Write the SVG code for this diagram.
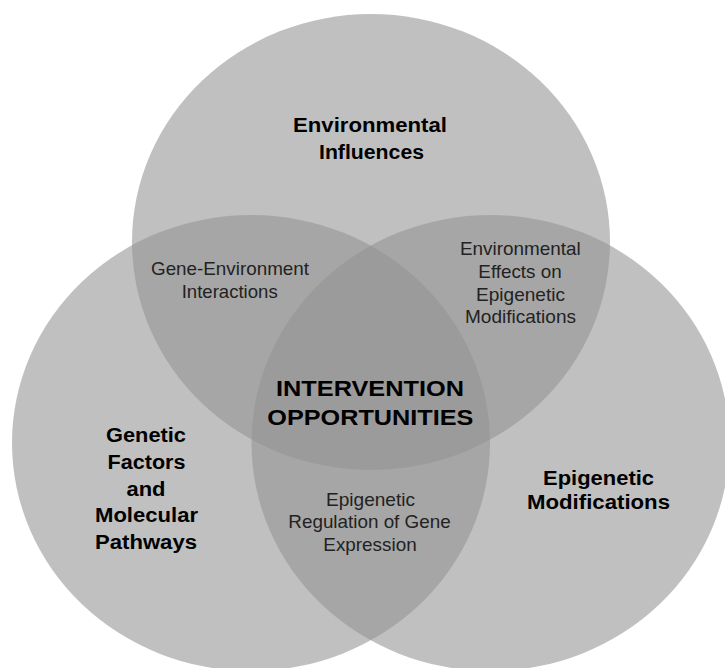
<svg xmlns="http://www.w3.org/2000/svg" width="725" height="668" viewBox="0 0 725 668">
<style>
.c{fill:#949494;fill-opacity:0.59;stroke:none}
.b{font-family:"Liberation Sans",Arial,sans-serif;font-weight:bold;font-size:20px;fill:#000;text-anchor:middle}
.big{font-size:22px}
.r{font-family:"Liberation Sans",Arial,sans-serif;font-size:18.5px;fill:#222;text-anchor:middle}
</style>
<rect width="725" height="668" fill="#fff"/>
<g id="environmental">
<ellipse class="c" cx="371" cy="242" rx="239" ry="228"/>
<text class="b" x="370" y="132" textLength="154" lengthAdjust="spacingAndGlyphs">Environmental</text>
<text class="b" x="371.5" y="159" textLength="105" lengthAdjust="spacingAndGlyphs">Influences</text>
</g>
<g id="genetic">
<ellipse class="c" cx="251" cy="443" rx="239" ry="228"/>
<text class="b" x="146" y="442" textLength="80" lengthAdjust="spacingAndGlyphs">Genetic</text>
<text class="b" x="146.5" y="469" textLength="78" lengthAdjust="spacingAndGlyphs">Factors</text>
<text class="b" x="146" y="496" textLength="39" lengthAdjust="spacingAndGlyphs">and</text>
<text class="b" x="146.5" y="522" textLength="103" lengthAdjust="spacingAndGlyphs">Molecular</text>
<text class="b" x="146" y="549" textLength="102" lengthAdjust="spacingAndGlyphs">Pathways</text>
</g>
<g id="epigenetic">
<ellipse class="c" cx="490.5" cy="443" rx="239" ry="228"/>
<text class="b" x="598.5" y="485" textLength="111" lengthAdjust="spacingAndGlyphs">Epigenetic</text>
<text class="b" x="598.5" y="508.5" textLength="143" lengthAdjust="spacingAndGlyphs">Modifications</text>
</g>
<g id="gene-environment">
<text class="r" x="230" y="274.5" textLength="158" lengthAdjust="spacingAndGlyphs">Gene-Environment</text>
<text class="r" x="229.7" y="297.7" textLength="96" lengthAdjust="spacingAndGlyphs">Interactions</text>
</g>
<g id="environmental-effects">
<text class="r" x="520.3" y="255" textLength="120.7" lengthAdjust="spacingAndGlyphs">Environmental</text>
<text class="r" x="520" y="278.3" textLength="83.3" lengthAdjust="spacingAndGlyphs">Effects on</text>
<text class="r" x="520.5" y="300.5" textLength="89" lengthAdjust="spacingAndGlyphs">Epigenetic</text>
<text class="r" x="520.5" y="322.7" textLength="111" lengthAdjust="spacingAndGlyphs">Modifications</text>
</g>
<g id="epigenetic-regulation">
<text class="r" x="370.5" y="506" textLength="89" lengthAdjust="spacingAndGlyphs">Epigenetic</text>
<text class="r" x="369.5" y="528.3" textLength="162.3" lengthAdjust="spacingAndGlyphs">Regulation of Gene</text>
<text class="r" x="370" y="550.7" textLength="93.3" lengthAdjust="spacingAndGlyphs">Expression</text>
</g>
<g id="intervention">
<text class="b big" x="370" y="396" textLength="188" lengthAdjust="spacingAndGlyphs">INTERVENTION</text>
<text class="b big" x="370.3" y="425" textLength="206" lengthAdjust="spacingAndGlyphs">OPPORTUNITIES</text>
</g>
</svg>
